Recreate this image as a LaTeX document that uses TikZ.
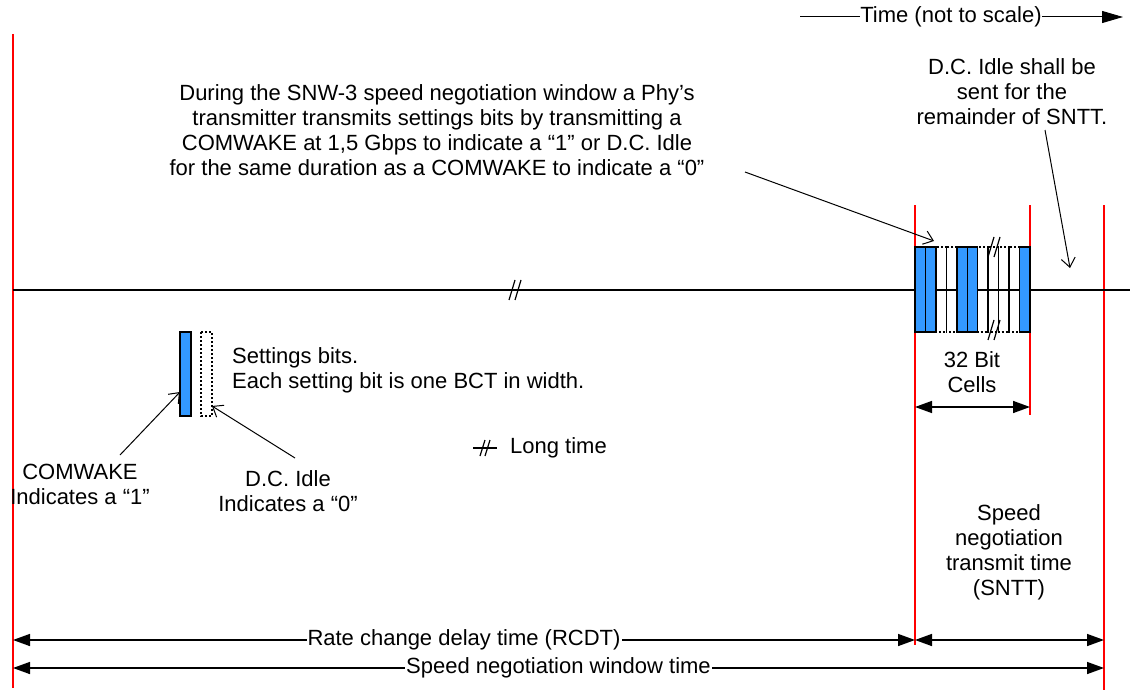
\documentclass[tikz,border=0pt]{standalone}
\usepackage{fontspec}
\setmainfont{Liberation Sans}
\usetikzlibrary{arrows.meta}
\definecolor{bitblue}{RGB}{51,153,255}
\begin{document}
\begin{tikzpicture}[x=1pt,y=-1pt,
  txt/.style={font=\fontsize{22}{25}\selectfont, inner sep=0pt, align=center},
  redl/.style={draw=red, line width=2pt},
  blk/.style={line width=1.5pt},
  dim/.style={blk, {Triangle[length=17pt,width=12pt]}-{Triangle[length=17pt,width=12pt]}},
  callout/.style={line width=1pt, -{Straight Barb[length=9pt,width=14pt]}},
  solidbit/.style={draw=black, line width=1.5pt, fill=bitblue},
  idlebit/.style={draw=black, line width=1.5pt, dash pattern=on 2pt off 2pt},
  brk/.pic={\draw[line width=1.2pt] (-6,10)--(0,-10) (0,10)--(6,-10);},
  smallbrk/.pic={\draw[line width=1.2pt] (-5,8)--(0,-8) (0,8)--(5,-8);},
]
\useasboundingbox (0,0) rectangle (1130,698);

% red time markers
\draw[redl] (13,34) -- (13,688);
\draw[redl] (915,205) -- (915,645);
\draw[redl] (1030,205) -- (1030,415);
\draw[redl] (1104,205) -- (1104,690);

% main time line
\coordinate (lineL) at (13,290);
\coordinate (lineR) at (1130,290);
\draw[blk] (lineL) -- (lineR);
\pic at (515,290) {brk};

% bit cells
\foreach \i in {2,3,6,7,8,9}
  \draw[idlebit] ({915+\i*10.4545},247) rectangle ++(10.4545,85);
\foreach \i in {0,1,4,5,10}
  \draw[solidbit] ({915+\i*10.4545},247) rectangle ++(10.4545,85);
\pic at (994,247) {brk};
\pic at (994,330) {brk};

% legend bars
\draw[solidbit] (180,332) rectangle (191,416);
\draw[idlebit] (201,332) rectangle (212,416);
\coordinate (comTip) at (180,392);
\coordinate (idleTip) at (212,406);

% top time arrow
\node[txt] (time) at (951,17) {Time (not to scale)};
\coordinate (timeL) at (800,17);
\coordinate (timeR) at (1123,17);
\draw[line width=1pt] (timeL) -- (time.west);
\draw[line width=1pt, -{Triangle[length=21pt,width=12pt]}] (time.east) -- (timeR);

% texts
\node[txt] (desc) at (437,130) {During the SNW-3 speed negotiation window a Phy’s\\
transmitter transmits settings bits by transmitting a\\
COMWAKE at 1,5 Gbps to indicate a “1” or D.C. Idle\\
for the same duration as a COMWAKE to indicate a “0”};
\node[txt] (rem) at (1012,92) {D.C. Idle shall be\\sent for the\\remainder of SNTT.};
\node[txt, align=left, anchor=west] (settings) at (232,370) {Settings bits.\\Each setting bit is one BCT in width.};
\node[txt] (comw) at (80,484) {COMWAKE\\Indicates a “1”};
\node[txt] (dcidle) at (288,491) {D.C. Idle\\Indicates a “0”};
\node[txt] (cells) at (972,372) {32 Bit\\Cells};
\node[txt] (sntt) at (1009,552) {Speed\\negotiation\\transmit time\\(SNTT)};

% long time legend
\coordinate (ltL) at (473,448);
\coordinate (ltR) at (497,448);
\draw[line width=1.2pt] (ltL) -- (ltR);
\pic at (485,448) {smallbrk};
\node[txt, anchor=west] (longtime) at (510,448) {Long time};

% callouts
\coordinate (descFrom) at (745,172);
\coordinate (descTip) at (934,241);
\draw[callout] (descFrom) -- (descTip);
\coordinate (remFrom) at (1045,130);
\coordinate (remTip) at (1070,268);
\draw[callout] (remFrom) -- (remTip);
\coordinate (comFrom) at (120,455);
\draw[callout] (comFrom) -- (comTip);
\coordinate (idleFrom) at (295,458);
\draw[callout] (idleFrom) -- (idleTip);

% dimension arrows
\coordinate (cellL) at (915,407);
\coordinate (cellR) at (1030,407);
\draw[dim] (cellL) -- (cellR);
\coordinate (rcdtL) at (13,640);
\coordinate (rcdtR) at (915,640);
\draw[dim] (rcdtL) -- (rcdtR) node[midway, txt, fill=white, inner xsep=1pt] (rcdt) {Rate change delay time (RCDT)};
\coordinate (snttR) at (1104,640);
\draw[dim] (rcdtR) -- (snttR);
\coordinate (winL) at (13,668);
\coordinate (winR) at (1104,668);
\draw[dim] (winL) -- (winR) node[midway, txt, fill=white, inner xsep=1pt] (win) {Speed negotiation window time};
\end{tikzpicture}
\end{document}
